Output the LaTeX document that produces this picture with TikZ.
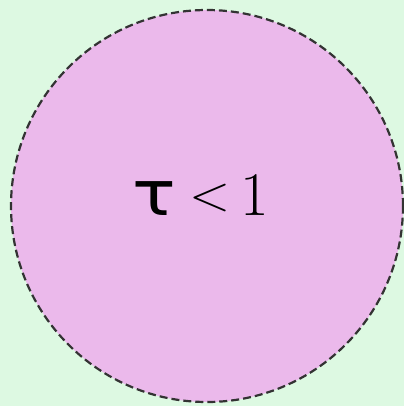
\documentclass[tikz,border=0pt]{standalone}
\usepackage{fontspec}
\newfontfamily\taufont{DejaVu Sans}
\definecolor{bgc}{HTML}{DDF9E2}
\definecolor{circfill}{HTML}{EBB9EB}
\definecolor{circline}{HTML}{333333}
\tikzset{
  bubble/.style={circle, draw=circline, fill=circfill, line width=2.2bp, dash pattern=on 8bp off 4bp, minimum size=392bp, inner sep=0pt},
  label/.style={font=\fontsize{62bp}{64bp}\selectfont, inner sep=0pt}
}
\begin{document}
\begin{tikzpicture}[x=1bp,y=-1bp]
\fill[bgc] (0,0) rectangle (404,406);
\useasboundingbox (0,0) rectangle (404,406);
\node[bubble] (c) at (207,206) {};
\node[label, anchor=base] (t) at (201.5,215) {\makebox[55bp][c]{\hspace*{3bp}\taufont\scalebox{1.17}[1]{τ}}\makebox[52bp][c]{\hspace*{9bp}\fontsize{50bp}{50bp}\selectfont\raisebox{5bp}{\scalebox{1.08}[1]{<}}}\makebox[46bp][c]{1}};
\end{tikzpicture}
\end{document}
